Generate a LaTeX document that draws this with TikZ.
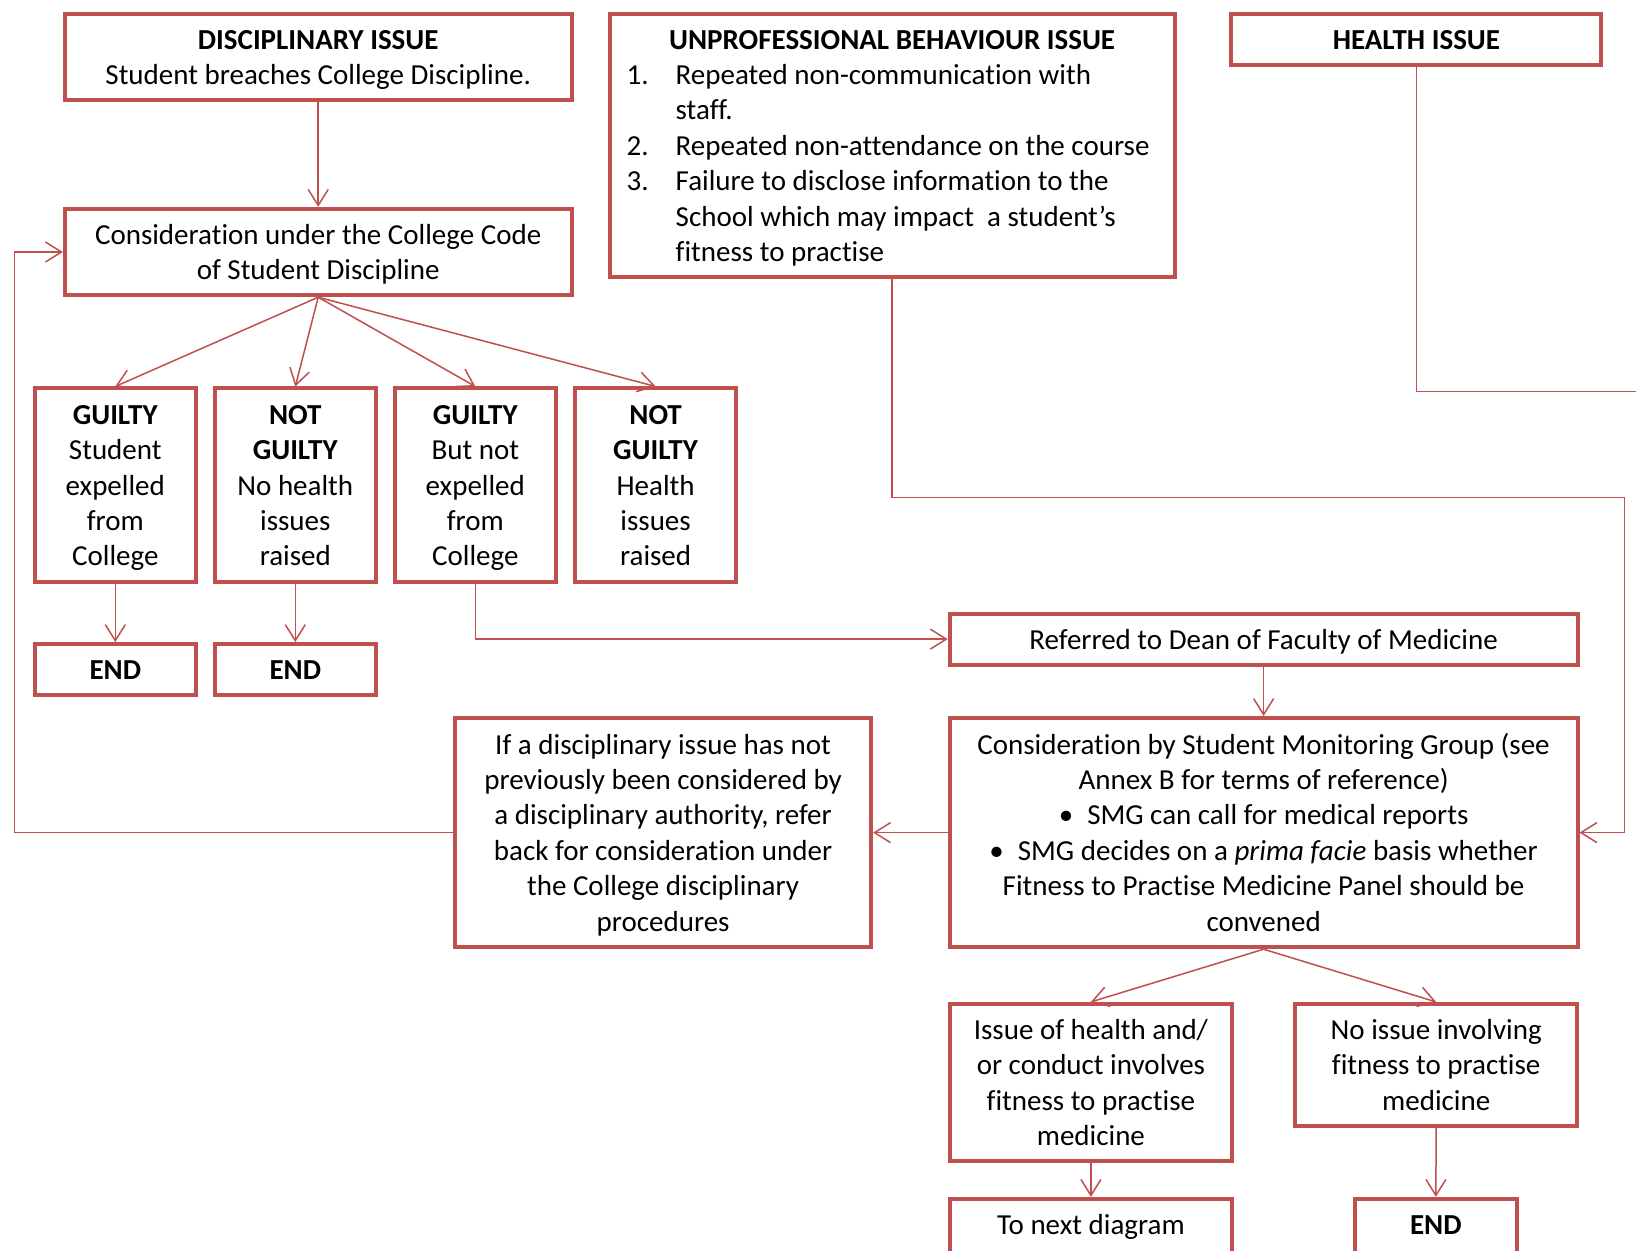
\documentclass[tikz,border=0pt]{standalone}
\usepackage{fontspec}
\setmainfont{Carlito}[Ligatures={NoCommon}]
\usetikzlibrary{arrows.meta}
\definecolor{redc}{HTML}{C0504D}
\newcommand\fsx{\rule{0pt}{13.5pt}}
\newcommand\lsx{\rule[-3.6pt]{0pt}{3.6pt}}
\tikzset{
  box/.style={draw=redc, line width=2pt, fill=white, align=center, inner sep=0pt,
    font=\fontsize{14.5pt}{17.7pt}\selectfont, text=black},
  conn/.style={draw=redc, line width=0.75pt},
  arr/.style={conn, -{Straight Barb[length=8pt,width=10pt]}},
}
\begin{document}
\begin{tikzpicture}[x=0.5pt,y=-0.5pt]
\useasboundingbox (0,0) rectangle (1636,1250);
\clip (0,0) rectangle (1636,1250);
\fill[white] (0,0) rectangle (1636,1250);

% top row
\node[box, minimum width=253.3pt, minimum height=43.2pt] (disc) at (318.2,56.9)
  {\fsx\textbf{DISCIPLINARY ISSUE}\\Student breaches College Discipline.\lsx};
\node[box, minimum width=282.6pt, minimum height=131.75pt] (unp) at (892.1,145.5)
  {\rule{0pt}{15pt}\textbf{UNPROFESSIONAL BEHAVIOUR ISSUE}\\
   \begin{tabular}[t]{@{}p{24.5pt}@{}l@{}}
   1. & Repeated non-communication with\\
      & staff.\\
   2. & Repeated non-attendance on the course\\
   3. & Failure to disclose information to the\\
      & School which may impact\ \ a student’s\\
      & fitness to practise
   \end{tabular}\hspace*{4pt}};
\node[box, minimum width=185pt, minimum height=25.4pt] (health) at (1416.4,39.1)
  {\fsx\textbf{HEALTH ISSUE}\lsx};

\node[box, minimum width=253.3pt, minimum height=43.2pt] (cons) at (318.2,252)
  {\fsx Consideration under the College Code\\of Student Discipline\lsx};

% four outcomes
\node[box, minimum width=80.75pt, minimum height=96.75pt] (g1) at (115.3,485.2)
  {\fsx\textbf{GUILTY}\\Student\\expelled\\from\\College\lsx};
\node[box, minimum width=80.75pt, minimum height=96.75pt] (ng1) at (295.3,485.2)
  {\fsx\textbf{NOT}\\\textbf{GUILTY}\\No health\\issues\\raised\lsx};
\node[box, minimum width=80.75pt, minimum height=96.75pt] (g2) at (475.3,485.2)
  {\fsx\textbf{GUILTY}\\But not\\expelled\\from\\College\lsx};
\node[box, minimum width=80.75pt, minimum height=96.75pt] (ng2) at (655.6,485.2)
  {\fsx\textbf{NOT}\\\textbf{GUILTY}\\Health\\issues\\raised\lsx};

\node[box, minimum width=80.75pt, minimum height=25.4pt] (e1) at (115.3,669.4) {\fsx\textbf{END}\lsx};
\node[box, minimum width=80.75pt, minimum height=25.4pt] (e2) at (295.3,669.4) {\fsx\textbf{END}\lsx};

% right column
\node[box, minimum width=313.9pt, minimum height=25.4pt] (dean) at (1263.6,639.1)
  {\fsx Referred to Dean of Faculty of Medicine\lsx};
\node[box, minimum width=313.9pt, minimum height=114.6pt] (smg) at (1263.6,832.6)
  {\fsx Consideration by Student Monitoring Group (see\\
   Annex B for terms of reference)\\
   \textbullet\hspace{7pt}SMG can call for medical reports\\
   \textbullet\hspace{7pt}SMG decides on a \emph{prima facie} basis whether\\
   Fitness to Practise Medicine Panel should be\\
   convened\lsx};
\node[box, minimum width=208pt, minimum height=114.6pt] (ifd) at (663.1,832.6)
  {\fsx If a disciplinary issue has not\\previously been considered by\\a disciplinary authority, refer\\back for consideration under\\the College disciplinary\\procedures\lsx};

\node[box, minimum width=141.2pt, minimum height=78.6pt] (iss) at (1090.9,1082.5)
  {\fsx Issue of health and/\\or conduct involves\\fitness to practise\\medicine\lsx};
\node[box, minimum width=141.2pt, minimum height=60.85pt] (nois) at (1436.2,1064.8)
  {\fsx No issue involving\\fitness to practise\\medicine\lsx};
\node[box, minimum width=141.2pt, anchor=north] (next) at (1090.9,1196.8)
  {\rule[-16pt]{0pt}{33.7pt}To next diagram};
\node[box, minimum width=81.2pt, anchor=north] (e3) at (1435.8,1196.8)
  {\rule[-16pt]{0pt}{33.7pt}\textbf{END}};

% connectors
\draw[arr] (disc) -- (cons);
\draw[arr] (cons.south) -- (g1.north);
\draw[arr] (cons.south) -- (ng1.north);
\draw[arr] (cons.south) -- (g2.north);
\draw[arr] (cons.south) -- (ng2.north);
\draw[arr] (g1) -- (e1);
\draw[arr] (ng1) -- (e2);
\draw[arr] (g2.south) |- (dean.west);

\coordinate (uR) at (1624.6,497.7);
\draw[arr] (unp.south) |- (uR) |- (smg.east);
\coordinate (hR) at (1645,391.3);
\draw[conn] (health.south) |- (hR);

\draw[arr] (dean) -- (smg);
\draw[arr] (smg.west) -- (ifd.east);
\coordinate (lL) at (14.6,832.6);
\draw[arr] (ifd.west) -- (lL) |- (cons.west);

\draw[arr] (smg.south) -- (iss.north);
\draw[arr] (smg.south) -- (nois.north);
\draw[arr] (iss.south) -- (next.north);
\draw[arr] (nois.south) -- (e3.north);
\end{tikzpicture}
\end{document}
